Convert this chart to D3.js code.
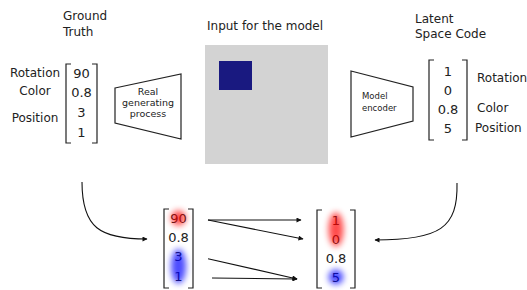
<!DOCTYPE html>
<html>
<head>
<meta charset="utf-8">
<script src="https://cdnjs.cloudflare.com/ajax/libs/d3/7.8.5/d3.min.js"></script>
<style>
  body { margin: 0; background: #fff; }
  text { font-family: "DejaVu Sans", Verdana, sans-serif; fill: #222; }
</style>
</head>
<body>
<div id="chart-area"></div>
<script>
var width = 527, height = 290;

// diagram content
var gtLabels = ["Rotation", "Color", "Position"];
var gtValues = ["90", "0.8", "3", "1"];
var latentLabels = ["Rotation", "Color", "Position"];
var latentValues = ["1", "0", "0.8", "5"];
// which entries of each vector light up in the bottom comparison
var gtGroups = [[0, 0, "red"], [2, 3, "blue"]];
var latentGroups = [[0, 1, "red"], [3, 3, "blue"]];
// arrows: ground truth entry -> latent entry
var links = [[0, 0], [0, 1], [2, 3], [3, 3]];

var svg = d3.select("#chart-area").append("svg")
    .attr("width", width)
    .attr("height", height);

var defs = svg.append("defs");
defs.append("filter").attr("id", "glow")
    .attr("x", "-100%").attr("y", "-100%").attr("width", "300%").attr("height", "300%")
  .append("feGaussianBlur").attr("stdDeviation", 3);
defs.append("marker")
    .attr("id", "head")
    .attr("viewBox", "0 0 10 10")
    .attr("refX", 9).attr("refY", 5)
    .attr("markerWidth", 8).attr("markerHeight", 5)
    .attr("markerUnits", "userSpaceOnUse")
    .attr("orient", "auto")
  .append("path").attr("d", "M0,0L10,5L0,10z").attr("fill", "#111");

function bracket(g, x0, x1, y0, y1) {
  var t = 5;
  g.append("path")
      .attr("d", "M" + (x0 + t) + "," + y0 + "H" + x0 + "V" + y1 + "H" + (x0 + t))
      .attr("fill", "none").attr("stroke", "#222").attr("stroke-width", 1.2);
  g.append("path")
      .attr("d", "M" + (x1 - t) + "," + y0 + "H" + x1 + "V" + y1 + "H" + (x1 - t))
      .attr("fill", "none").attr("stroke", "#222").attr("stroke-width", 1.2);
}

function vector(x0, x1, y0, y1, r0, r1, vals, groups) {
  var g = svg.append("g");
  var y = d3.scalePoint().domain(d3.range(vals.length)).range([r0, r1]);
  var cx = (x0 + x1) / 2;
  bracket(g, x0, x1, y0, y1);
  g.selectAll(".val").data(vals).enter().append("text")
      .attr("class", "val")
      .attr("x", cx)
      .attr("y", function(d, i) { return y(i); })
      .attr("dy", "0.36em")
      .attr("text-anchor", "middle")
      .style("font-size", "13px")
      .text(function(d) { return d; });
  if (groups) {
    groups.forEach(function(gr) {
      var a = y(gr[0]), b = y(gr[1]);
      g.append("ellipse")
          .attr("cx", cx).attr("cy", (a + b) / 2)
          .attr("rx", 7.5).attr("ry", (b - a) / 2 + 7.5)
          .attr("fill", gr[2])
          .attr("opacity", 0.7)
          .attr("filter", "url(#glow)");
    });
  }
  return y;
}

// titles
svg.append("text").attr("x", 63).attr("y", 20).style("font-size", "12px").text("Ground");
svg.append("text").attr("x", 63).attr("y", 36).style("font-size", "12px").text("Truth");
svg.append("text").attr("x", 207).attr("y", 30).style("font-size", "12px").text("Input for the model");
svg.append("text").attr("x", 415).attr("y", 23).style("font-size", "12px").text("Latent");
svg.append("text").attr("x", 415).attr("y", 38).style("font-size", "12px").text("Space Code");

// top vectors
vector(66, 97, 64, 143, 73, 132, gtValues);
vector(429, 467, 60, 140, 71, 128, latentValues);

svg.selectAll(".gtlab").data(gtLabels).enter().append("text")
    .attr("x", 35)
    .attr("y", function(d, i) { return [73, 91, 118][i]; })
    .attr("dy", "0.36em")
    .attr("text-anchor", "middle")
    .style("font-size", "12px")
    .text(function(d) { return d; });
svg.selectAll(".ltlab").data(latentLabels).enter().append("text")
    .attr("x", function(d, i) { return i == 2 ? 475 : 477; })
    .attr("y", function(d, i) { return [78, 108, 128][i]; })
    .attr("dy", "0.36em")
    .style("font-size", "12px")
    .text(function(d) { return d; });

// generator / encoder blocks
svg.append("path")
    .attr("d", "M115,88L181,74L181,139L115,123Z")
    .attr("fill", "#fff").attr("stroke", "#222").attr("stroke-width", 1.2);
["Real", "generating", "process"].forEach(function(t, i) {
  svg.append("text").attr("x", 148).attr("y", 95 + i * 11)
      .attr("text-anchor", "middle").style("font-size", "9.5px").text(t);
});
svg.append("path")
    .attr("d", "M351,71L413,87L413,121L351,137Z")
    .attr("fill", "#fff").attr("stroke", "#222").attr("stroke-width", 1.2);
["Model", "encoder"].forEach(function(t, i) {
  svg.append("text").attr("x", 362).attr("y", 99 + i * 12)
      .style("font-size", "8.5px").text(t);
});

// input image
svg.append("rect").attr("x", 205).attr("y", 45).attr("width", 123).attr("height", 119)
    .attr("fill", "#d3d3d3");
svg.append("rect").attr("x", 219).attr("y", 61).attr("width", 33).attr("height", 29)
    .attr("fill", "#191980");

// bottom comparison
var yl = vector(164, 193, 209, 288, 218, 276, gtValues, gtGroups);
var yr = vector(317, 355, 210, 288, 220, 277, latentValues, latentGroups);

svg.selectAll(".link").data(links).enter().append("line")
    .attr("x1", function(d, i) { return i == 3 ? 212 : 208; })
    .attr("y1", function(d) { return yl(d[0]) + 2; })
    .attr("x2", function(d) { return d[1] == 3 ? 297 : (d[1] == 1 ? 303 : 301); })
    .attr("y2", function(d) { return yr(d[1]) + (d[1] == 3 ? 2 : 0); })
    .attr("stroke", "#111").attr("stroke-width", 1.1)
    .attr("marker-end", "url(#head)");

// curved connectors
svg.append("path")
    .attr("d", "M82,182C82,228 100,239 147,239")
    .attr("fill", "none").attr("stroke", "#111").attr("stroke-width", 1.1)
    .attr("marker-end", "url(#head)");
svg.append("path")
    .attr("d", "M457,183C458,228 440,240 375,240")
    .attr("fill", "none").attr("stroke", "#111").attr("stroke-width", 1.1)
    .attr("marker-end", "url(#head)");
</script>
</body>
</html>
